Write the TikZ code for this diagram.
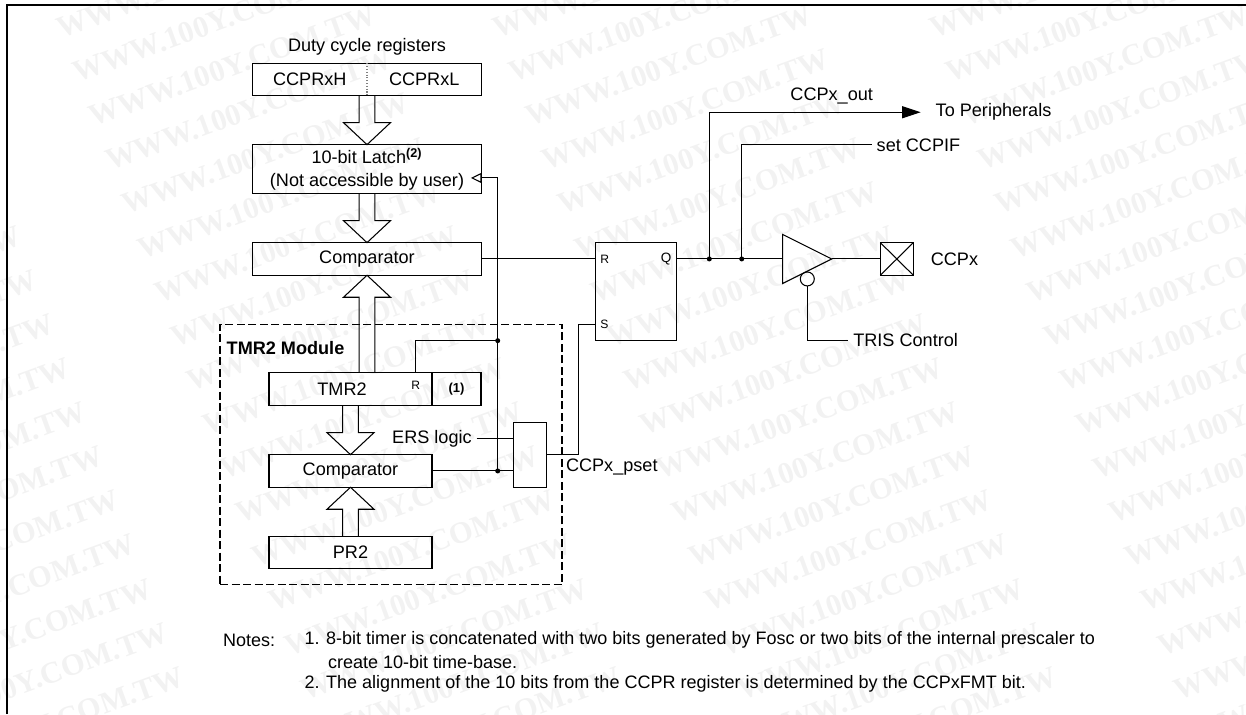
\documentclass[tikz,border=0pt]{standalone}
\usepackage{fontspec}
\setmainfont{Liberation Sans}
\newfontfamily\markfont{Liberation Serif}
\usetikzlibrary{shapes.geometric, arrows.meta, positioning, calc}
\newcommand{\labelsize}{\fontsize{10.3}{13}\selectfont}
\newcommand{\pinsize}{\fontsize{6.9}{8}\selectfont}
\newcommand{\notesize}{\fontsize{10.25}{12}\selectfont}

\begin{document}
\begin{tikzpicture}[
    inner sep=0pt, outer sep=0pt, line width=0.6pt,
    reg/.style={draw, font=\labelsize, align=center, minimum height=0.652cm},
    txt/.style={font=\labelsize, align=center},
    pin/.style={font=\pinsize},
    notetxt/.style={font=\notesize},
    jdot/.style={circle, fill=black, minimum size=0.1cm},
    wmark/.style={font=\markfont\bfseries\fontsize{17.4}{18}\selectfont, text=black!5,
                  rotate=20, anchor=base west},
    frame/.style={line width=1.2pt},
    modbox/.style={draw, dash pattern=on 0.16cm off 0.07cm},
    busarrow/.style={draw, to path={
        ($(\tikztostart)+(-0.156,0)$)
        -- ($(\tikztotarget)!0.44cm!(\tikztostart)+(-0.156,0)$)
        -- ($(\tikztotarget)!0.44cm!(\tikztostart)+(-0.47,0)$)
        -- (\tikztotarget)
        -- ($(\tikztotarget)!0.44cm!(\tikztostart)+(0.47,0)$)
        -- ($(\tikztotarget)!0.44cm!(\tikztostart)+(0.156,0)$)
        -- ($(\tikztostart)+(0.156,0)$)}},
]
\useasboundingbox (0,0) rectangle (24.92,14.28);

% -- Watermark --
\begin{scope}
\clip (0,0) rectangle (24.92,14.28);
\foreach \i in {-1,...,2}
    \foreach \j in {-2,...,15}
        \node[wmark] (wm\i\j) at ({1.876+8.728*\i+0.326*\j},{11.744-0.882*\j}) {WWW.100Y.COM.TW};
\end{scope}

% -- Page frame --
\coordinate (fbl) at (0.14,0);
\coordinate (ftl) at (0.14,14.18);
\coordinate (ftr) at (24.92,14.18);
\draw[frame] (fbl) -- (ftl) -- (ftr);

% -- Duty cycle path --
\node[reg, minimum width=4.576cm] at (7.34,12.687) (ccpr) {};
\node[txt] at ($(ccpr.center)!0.5!(ccpr.west)$) (ccprh) {CCPRxH};
\node[txt] at ($(ccpr.center)!0.5!(ccpr.east)$) (ccprl) {CCPRxL};
\draw[densely dotted, gray] (ccpr.north) -- (ccpr.south);
\node[txt, above=0.326cm of ccpr.north, anchor=center] (duty) {Duty cycle registers};
\node[reg, minimum width=4.576cm, minimum height=0.98cm, below=0.974cm of ccpr]
    (latch) {10-bit Latch\textsuperscript{\textbf{(2)}}\\(Not accessible by user)};
\node[reg, minimum width=4.576cm, below=0.98cm of latch] (cmpa) {Comparator};

% -- TMR2 module --
\node[reg, minimum width=3.26cm, minimum height=0.66cm,
      below=1.948cm of cmpa.south west, anchor=north west, xshift=0.328cm]
    (tmr) {TMR2\hspace{0.34cm}};
\node[reg, minimum width=0.98cm, minimum height=0.66cm, right=0cm of tmr,
      font=\fontsize{7.4}{8}\selectfont\bfseries] (tmrx) {(1)};
\node[reg, minimum width=3.26cm, below=0.98cm of tmr] (cmpb) {Comparator};
\node[reg, minimum width=3.26cm, below=0.98cm of cmpb] (prtwo) {PR2};
\node[reg, minimum width=0.652cm, minimum height=1.294cm,
      right=1.634cm of cmpb.south east, anchor=south west] (gate) {};
\node[txt, inner xsep=0.1cm, below left=0.32cm and 0.74cm of gate.north west, anchor=east]
    (ers) {ERS logic};
\node[txt, below right=0.242cm and 0.394cm of gate.east, anchor=west] (pset) {CCPx\_pset};
\node[modbox, minimum width=6.84cm, minimum height=5.214cm,
      above left=0.968cm and 0.98cm of tmr.north west, anchor=north west] (module) {};
\node[txt, font=\labelsize\bfseries, below right=0.48cm and 0.134cm of module.north west,
      anchor=west] (modlab) {TMR2 Module};
\coordinate[right=2.934cm of tmr.north west] (rpin);
\coordinate[above=0.64cm of rpin] (rtop);
\node[pin, below=0.18cm of rpin] (rlab) {R};

% -- Latch and flip-flop --
\node[reg, minimum width=1.628cm, minimum height=1.952cm,
      right=2.278cm of cmpa.north east, anchor=north west] (ff) {};
\coordinate (ffr) at (cmpa.east -| ff.west);
\coordinate (ffq) at (cmpa.east -| ff.east);
\coordinate[above=0.32cm of ff.south west] (ffs);
\node[pin, right=0.1cm of ffr] (rpinlab) {R};
\node[pin, right=0.1cm of ffs] (spinlab) {S};
\node[font=\fontsize{7.7}{8}\selectfont, left=0.106cm of ffq] (qlab) {Q};

% -- Output stage --
\coordinate[right=0.652cm of ffq] (outj);
\coordinate[right=0.648cm of outj] (setj);
\node[draw, isosceles triangle, isosceles triangle apex angle=53.13,
      isosceles triangle stretches, minimum width=0.98cm, minimum height=0.98cm,
      right=2.12cm of ffq, anchor=west] (buf) {};
\node[draw, minimum width=0.66cm, minimum height=0.652cm,
      right=0.972cm of buf.apex] (pad) {};
\draw (pad.north west) -- (pad.south east) (pad.north east) -- (pad.south west);
\node[txt, right=0.35cm of pad] (ccpx) {CCPx};
\node[draw, circle, minimum size=0.28cm] at ($(buf.west)+(0.492,-0.4)$) (inv) {};
\node[txt, inner xsep=0.1cm, right=3.432cm of ff.south east, anchor=west] (tris) {TRIS Control};
\node[txt, inner xsep=0.1cm, above right=1.954cm and 3.9cm of ff.north east, anchor=west]
    (setif) {set CCPIF};
\node[txt, inner xsep=0.3cm, above right=2.608cm and 4.88cm of ff.north east, anchor=west]
    (toper) {To Peripherals};
\node[txt, above right=2.934cm and 3.1cm of ff.north east, anchor=center] (outlab) {CCPx\_out};

% -- Notes --
\node[notetxt, below right=1.1cm and 0.06cm of module.south west, anchor=west] (notes) {Notes:};
\node[notetxt, right=1.63cm of notes.west, anchor=west] (noteone)
    {1. 8-bit timer is concatenated with two bits generated by Fosc or two bits of the internal prescaler to};
\node[notetxt, below right=0.44cm and 0.47cm of noteone.west, anchor=west] (notecont)
    {create 10-bit time-base.};
\node[notetxt, below=0.88cm of noteone.west, anchor=west] (notetwo)
    {2. The alignment of the 10 bits from the CCPR register is determined by the CCPxFMT bit.};

% -- Bus arrows --
\draw[busarrow] (ccpr.south) to (latch.north);
\draw[busarrow] (latch.south) to (cmpa.north);
\draw[busarrow] (cmpa.south |- tmr.north) to (cmpa.south);
\draw[busarrow] (tmr.south) to (cmpb.north);
\draw[busarrow] (prtwo.north) to (cmpb.south);

% -- Wires --
\coordinate[right=1.314cm of cmpb.east] (rstj);
\coordinate (rstt) at (rtop -| rstj);
\coordinate (latchin) at ($(latch.south east)+(-0.21,0.314)$);
\draw (rpin) -- (rtop) -- (rstt);
\draw (cmpb.east) -- (cmpb.east -| gate.west);
\draw[-{Triangle[open, length=0.21cm, width=0.2cm]}] (rstj) |- (latchin);
\draw (ers.east) -- (ers.east -| gate.west);
\coordinate[right=0.648cm of gate.east] (pout);
\draw (gate.east) -- (pout) |- (ffs);
\draw (cmpa.east) -- (ffr);
\draw (ffq) -- (buf.west);
\draw (buf.apex) -- (pad.west);
\draw (inv.south) |- (tris.west);
\draw[-{Triangle[length=0.37cm, width=0.24cm]}] (outj) |- (toper.west);
\draw (setj) |- (setif.west);
\node[jdot] at (rstj) (dota) {};
\node[jdot] at (rstt) (dotb) {};
\node[jdot] at (outj) (dotc) {};
\node[jdot] at (setj) (dotd) {};
\end{tikzpicture}
\end{document}
